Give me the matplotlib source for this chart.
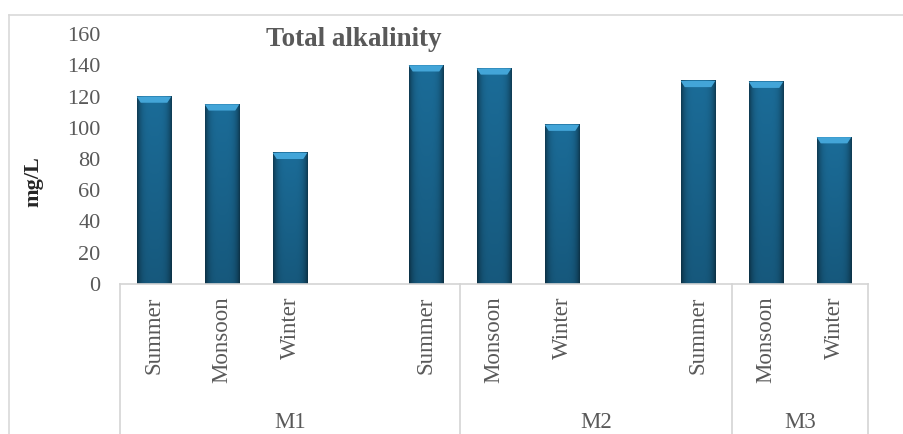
import numpy as np
import matplotlib
matplotlib.use("Agg")
import matplotlib.pyplot as plt
from matplotlib.patches import Polygon
import matplotlib.transforms as mtransforms

# season order on the category axis, blank slots separate the sites
seasons = ["Summer", "Monsoon", "Winter", "", "Summer", "Monsoon", "Winter", "",
           "Summer", "Monsoon", "Winter"]
alkalinity = [120, 115, 84, None, 140, 138, 102, None, 130, 129.5, 94]

# site grouping boxes under the axis (start, end) in category units
sites = ["M1", "M2", "M3"]
site_spans = [(-0.5, 4.5), (4.5, 8.5), (8.5, 10.5)]

plt.rcParams['font.family'] = ['Liberation Serif', 'DejaVu Serif']
grey = "#595959"
line_grey = "#d4d4d4"

fig = plt.figure(figsize=(9.04, 4.34), dpi=100)
W, H = 904, 434
ax = fig.add_axes([120 / W, 150 / H, 748 / W, 250 / H])

bar_w = 0.51
# horizontal shading across a bar: dark edges, lighter middle
prof = np.linspace(-1, 1, 60)
shade = 1 - 0.45 * prof ** 4
vert = np.linspace(0.82, 1.0, 40)[:, None]
base = np.array([0x1b, 0x6c, 0x98]) / 255.0
img = np.clip(base[None, None, :] * (shade[None, :, None] * vert[:, :, None]), 0, 1)

x = np.arange(len(seasons))
for xi, v in zip(x, alkalinity):
    if v is None:
        continue
    ax.imshow(img, extent=[xi - bar_w / 2, xi + bar_w / 2, 0, v],
              aspect="auto", origin="lower", zorder=2, interpolation="bilinear")
    # lighter bevel at the top of each bar
    bh = 4.0
    inset = 0.06
    ax.add_patch(Polygon([(xi - bar_w / 2, v), (xi + bar_w / 2, v),
                          (xi + bar_w / 2 - inset, v - bh), (xi - bar_w / 2 + inset, v - bh)],
                         closed=True, facecolor="#43a5d8", edgecolor="none", zorder=3))

ax.set_xlim(-0.5, len(seasons) - 0.5)
ax.set_ylim(0, 160)
ax.set_yticks(np.arange(0, 161, 20))
ax.tick_params(axis="y", length=0, pad=14, labelsize=16, labelcolor=grey)
ax.set_xticks(x)
ax.set_xticklabels([])
ax.tick_params(axis="x", length=0)
for s in ["top", "right", "left"]:
    ax.spines[s].set_visible(False)
ax.spines["bottom"].set_color(line_grey)
ax.spines["bottom"].set_linewidth(1.2)
ax.set_facecolor("none")

trans = mtransforms.blended_transform_factory(ax.transData, ax.transAxes)
for xi, lab in zip(x, seasons):
    if lab:
        ax.text(xi, -0.05, lab, transform=trans, rotation=90, ha="center", va="top",
                fontsize=16.5, color=grey)

for name, (a, b) in zip(sites, site_spans):
    ax.text((a + b) / 2, -0.555, name, transform=trans, ha="center", va="center",
            fontsize=16.5, color=grey)
for edge in sorted(set(v for span in site_spans for v in span)):
    ax.plot([edge, edge], [0, -0.7], transform=trans, color=line_grey, lw=1.2,
            clip_on=False)

ax.set_ylabel("mg/L", fontsize=16, fontweight="bold", color="#262626")
ax.yaxis.set_label_coords((43 - 120) / 748, (434 - 182 - 150) / 250)

fig.text(354 / W, 1 - 39 / H, "Total alkalinity", ha="center", va="center",
         fontsize=19.5, fontweight="bold", color=grey)

# outer chart frame
fig.add_artist(plt.Line2D([9 / W, 9 / W], [0, 1 - 15 / H], transform=fig.transFigure,
                          color="#d9d9d9", lw=1.2))
fig.add_artist(plt.Line2D([9 / W, 1], [1 - 15 / H, 1 - 15 / H], transform=fig.transFigure,
                          color="#d9d9d9", lw=1.2))

fig.savefig("out.png", dpi=100)
